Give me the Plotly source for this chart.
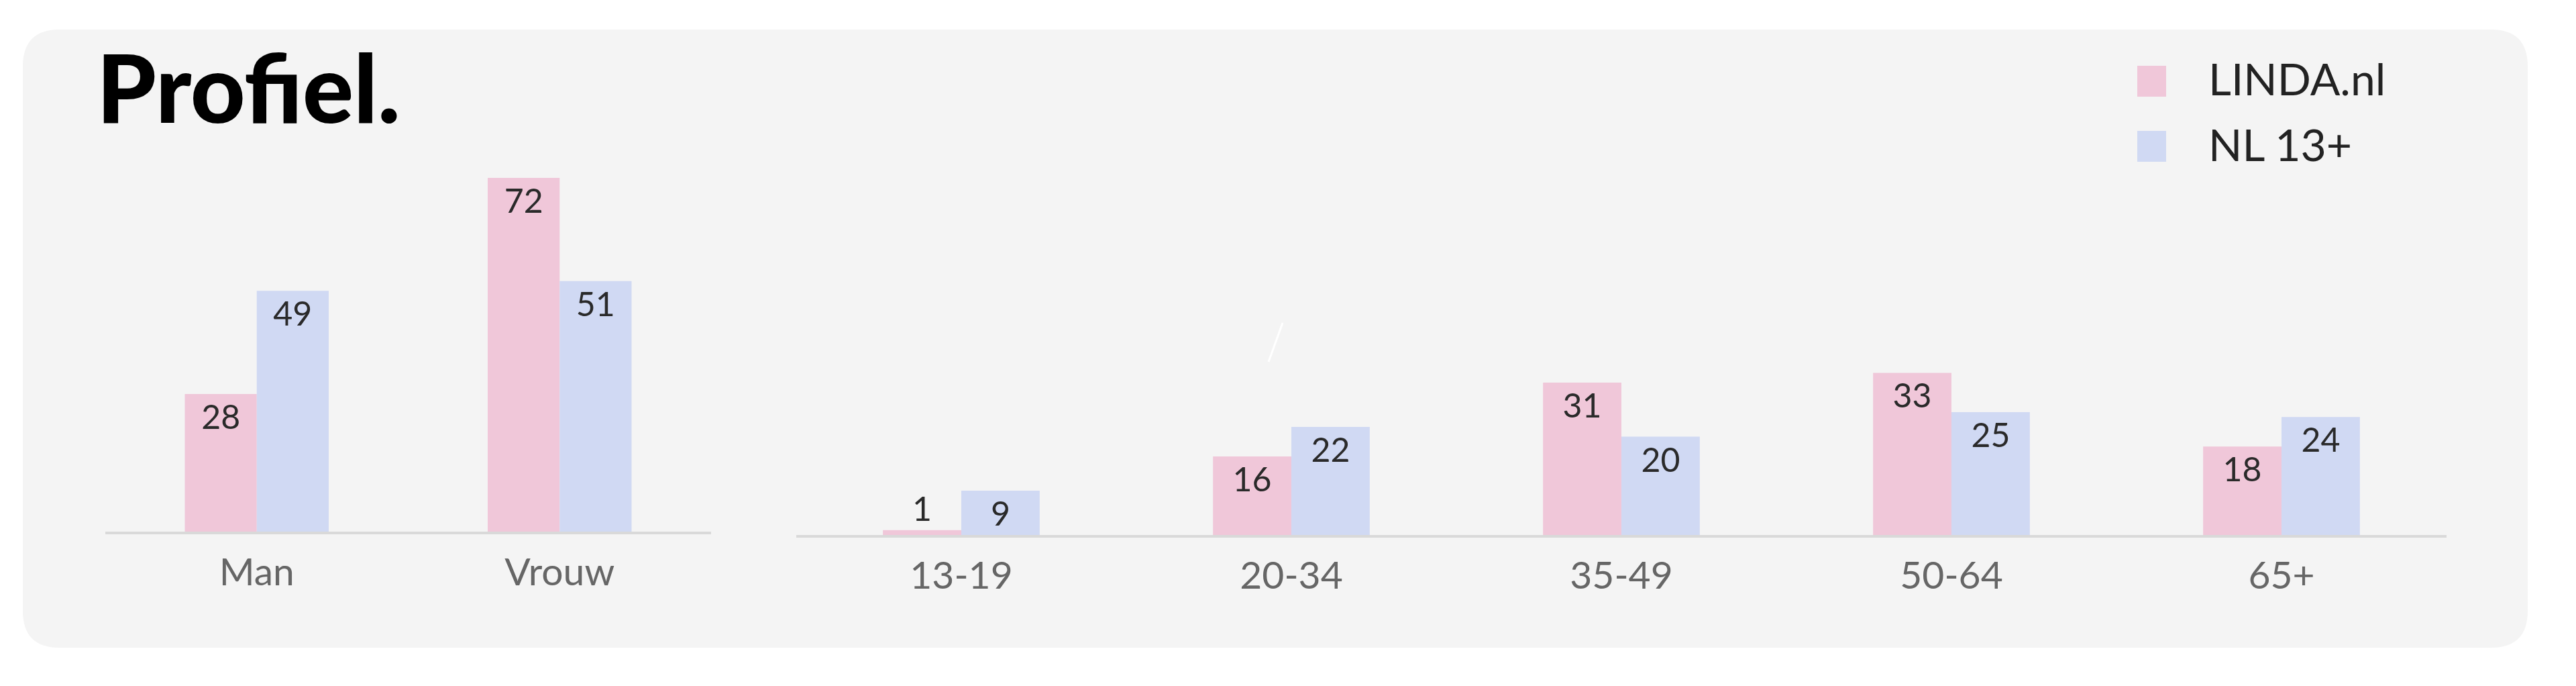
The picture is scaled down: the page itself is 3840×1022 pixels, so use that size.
import plotly.graph_objects as go

# Data
gender_cats = ["Man", "Vrouw"]
gender_linda = [28, 72]
gender_nl = [49, 51]

age_cats = ["13-19", "20-34", "35-49", "50-64", "65+"]
age_linda = [1, 16, 31, 33, 18]
age_nl = [9, 22, 20, 25, 24]

series_names = ["LINDA.nl", "NL 13+"]

W, H = 3840, 1022
PINK = "#f0c7d9"
BLUE = "#d0d9f3"
CARD = "#f4f4f4"
FONT = "Lato"


def px_x(x):
    return x / W


def px_y(y):
    return 1 - y / H


def rounded_rect(x0, y0, x1, y1, r):
    # path in paper coords, given pixel coords
    rx, ry = r / W, r / H
    X0, X1 = px_x(x0), px_x(x1)
    Y0, Y1 = px_y(y0), px_y(y1)  # Y0 top, Y1 bottom
    return (f"M{X0 + rx},{Y0} L{X1 - rx},{Y0} Q{X1},{Y0} {X1},{Y0 - ry} "
            f"L{X1},{Y1 + ry} Q{X1},{Y1} {X1 - rx},{Y1} "
            f"L{X0 + rx},{Y1} Q{X0},{Y1} {X0},{Y1 + ry} "
            f"L{X0},{Y0 - ry} Q{X0},{Y0} {X0 + rx},{Y0} Z")


fig = go.Figure()

bar_style = dict(
    texttemplate="%{y}",
    textposition="auto",
    insidetextanchor="end",
    textangle=0,
    constraintext="none",
    cliponaxis=False,
    textfont=dict(family=FONT, size=50, color="#2a2a2a"),
    insidetextfont=dict(family=FONT, size=50, color="#2a2a2a"),
    outsidetextfont=dict(family=FONT, size=50, color="#2a2a2a"),
    showlegend=False,
    hoverinfo="skip",
)

fig.add_trace(go.Bar(x=gender_cats, y=gender_linda, name=series_names[0],
                     marker=dict(color=PINK, line=dict(width=0)),
                     xaxis="x", yaxis="y", **bar_style))
fig.add_trace(go.Bar(x=gender_cats, y=gender_nl, name=series_names[1],
                     marker=dict(color=BLUE, line=dict(width=0)),
                     xaxis="x", yaxis="y", **bar_style))
fig.add_trace(go.Bar(x=age_cats, y=age_linda, name=series_names[0],
                     marker=dict(color=PINK, line=dict(width=0)),
                     xaxis="x2", yaxis="y2", **bar_style))
fig.add_trace(go.Bar(x=age_cats, y=age_nl, name=series_names[1],
                     marker=dict(color=BLUE, line=dict(width=0)),
                     xaxis="x2", yaxis="y2", **bar_style))

xaxis_style = dict(
    showline=True, linecolor="#d9d9d9", linewidth=4,
    showgrid=False, zeroline=False, ticks="",
    tickfont=dict(family=FONT, size=57, color="#666666"),
    ticklabelstandoff=8,
    fixedrange=True,
)
yaxis_style = dict(visible=False, range=[0, 85], fixedrange=True)

shapes = [
    # card background
    dict(type="path", path=rounded_rect(26, 36, 3760, 957, 55), xref="paper", yref="paper",
         fillcolor=CARD, line=dict(width=0), layer="below"),
    # small white stroke seen in the picture
    dict(type="line", xref="paper", yref="paper",
         x0=px_x(1904), y0=px_y(473), x1=px_x(1883), y1=px_y(531),
         line=dict(color="white", width=3), layer="below"),
]

# legend drawn by hand so the swatches can be large
legend_rows = [(113, PINK), (210, BLUE)]
annotations = [
    dict(text="<b>Profiel.</b>", x=px_x(134), y=px_y(120), xref="paper", yref="paper",
         xanchor="left", yanchor="middle", showarrow=False,
         font=dict(family="Lato Black, Lato", size=142, color="black", weight=900)),
]
for (yc, col), name in zip(legend_rows, series_names):
    shapes.append(dict(type="rect", xref="paper", yref="paper",
                       x0=px_x(3178), x1=px_x(3221), y0=px_y(yc - 23), y1=px_y(yc + 23),
                       fillcolor=col, line=dict(width=0)))
    annotations.append(dict(text=name, x=px_x(3282), y=px_y(yc - 4), xref="paper", yref="paper",
                            xanchor="left", yanchor="middle", showarrow=False,
                            font=dict(family=FONT, size=66, color="#222222")))

fig.update_layout(
    width=W, height=H,
    margin=dict(l=0, r=0, t=0, b=0),
    paper_bgcolor="white",
    plot_bgcolor="rgba(0,0,0,0)",
    barmode="group",
    bargap=0.525,
    bargroupgap=0,
    xaxis=dict(domain=[px_x(149), px_x(1052)], anchor="y", **xaxis_style),
    yaxis=dict(domain=[px_y(784), px_y(784 - 85 * 7.32)], anchor="x", **yaxis_style),
    xaxis2=dict(domain=[px_x(1179), px_x(3639)], anchor="y2", **xaxis_style),
    yaxis2=dict(domain=[px_y(789), px_y(789 - 85 * 7.32)], anchor="x2", **yaxis_style),
    shapes=shapes,
    annotations=annotations,
    uniformtext=dict(mode=False),
    showlegend=False,
)

fig.write_html("out.html")
